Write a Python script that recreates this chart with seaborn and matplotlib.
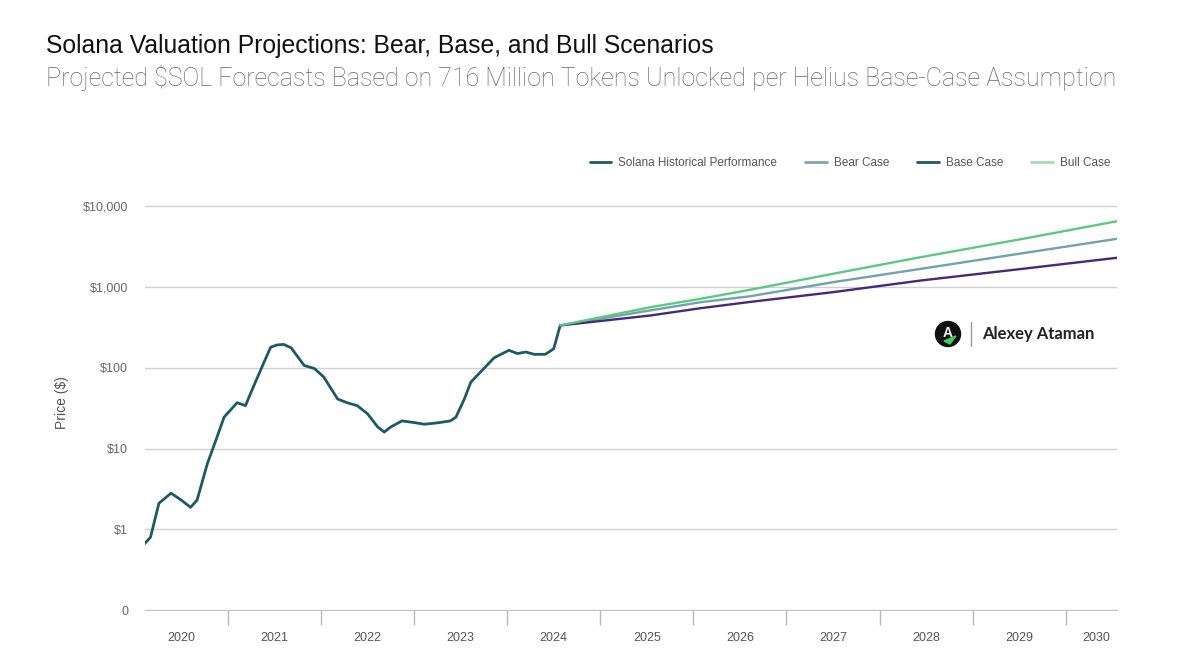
import pandas as pd
import seaborn as sns
import matplotlib.pyplot as plt
from matplotlib.lines import Line2D
from matplotlib.patches import Circle, Polygon
from matplotlib.ticker import FixedLocator, NullLocator

# values (x in decimal years, price in $)
hist_year = [2020.10, 2020.17, 2020.26, 2020.39, 2020.50, 2020.60, 2020.67, 2020.78,
             2020.87, 2020.96, 2021.10, 2021.19, 2021.25, 2021.32, 2021.39, 2021.46,
             2021.53, 2021.60, 2021.68, 2021.82, 2021.93, 2022.03, 2022.18, 2022.28,
             2022.39, 2022.50, 2022.61, 2022.68, 2022.75, 2022.87, 2023.00, 2023.11,
             2023.25, 2023.39, 2023.45, 2023.54, 2023.61, 2023.75, 2023.86, 2024.02,
             2024.11, 2024.20, 2024.29, 2024.41, 2024.50, 2024.57]
hist_price = [0.65, 0.80, 2.1, 2.8, 2.3, 1.87, 2.3, 6.5,
              12.5, 24.5, 37, 34, 50, 77, 118, 180,
              192, 195, 177, 107, 98, 77, 41, 37,
              34, 27, 18.5, 16, 18.5, 22, 21, 20,
              20.8, 22, 24.5, 41, 66.5, 98, 133, 165,
              150, 157, 147, 147, 172, 335]

proj_year = [2024.57, 2025.54, 2026.08, 2026.61, 2027.50, 2028.44, 2029.54, 2030.55]
bear_price = [335, 515, 650, 770, 1150, 1680, 2630, 3960]
base_price = [335, 445, 548, 655, 865, 1205, 1686, 2306]
bull_price = [335, 564, 717, 926, 1462, 2345, 3962, 6540]

series_names = ["Solana Historical Performance", "Bear Case", "Base Case", "Bull Case"]
line_colors = {"Solana Historical Performance": "#1e5966", "Bear Case": "#72a2ab",
               "Base Case": "#45297a", "Bull Case": "#5cc97e"}
legend_colors = ["#1e5966", "#7fa8ae", "#215a60", "#a3dcb4"]

year_ticks = list(range(2021, 2031))
year_labels = [str(y) for y in range(2020, 2031)]
year_label_pos = [y + 0.5 for y in range(2020, 2030)] + [2030.33]
price_ticks = [0.1, 1, 10, 100, 1000, 10000]
price_labels = ["0", "$1", "$10", "$100", "$1,000", "$10,000"]

frames = [pd.DataFrame({"year": hist_year, "price": hist_price,
                        "series": series_names[0]})]
for name, vals in zip(series_names[1:], [bear_price, base_price, bull_price]):
    frames.append(pd.DataFrame({"year": proj_year, "price": vals, "series": name}))
df = pd.concat(frames, ignore_index=True)

sns.set_style("white")
plt.rcParams["font.family"] = ["Liberation Sans", "DejaVu Sans"]

fig = plt.figure(figsize=(12, 6.68), dpi=100)
ax = fig.add_axes([0.1208, 0.0868, 0.81, 0.62])

for name in series_names:
    sns.lineplot(data=df[df["series"] == name], x="year", y="price",
                 color=line_colors[name], lw=2.0 if name == series_names[0] else 1.7,
                 ax=ax, legend=False, sort=False)

ax.set_yscale("log")
ax.set_ylim(0.1, 10 ** 4.13)
ax.set_xlim(2020.11, 2030.55)

ax.yaxis.set_major_locator(FixedLocator(price_ticks))
ax.yaxis.set_minor_locator(NullLocator())
ax.set_yticklabels(price_labels)
ax.xaxis.set_major_locator(FixedLocator(year_ticks))
ax.xaxis.set_minor_locator(FixedLocator(year_label_pos))
ax.set_xticklabels([""] * len(year_ticks))
ax.set_xticklabels(year_labels, minor=True)

ax.tick_params(axis="y", length=0, labelsize=9, labelcolor="#666666", pad=12)
ax.tick_params(axis="x", which="major", bottom=True, length=11, width=1,
               color="#bbbbbb", direction="out")
ax.tick_params(axis="x", which="minor", bottom=True, length=0, labelsize=9,
               labelcolor="#555555", pad=16)

ax.grid(axis="y", color="#d0d0d0", lw=1)
ax.grid(axis="x", visible=False)
for s in ["top", "right", "left"]:
    ax.spines[s].set_visible(False)
ax.spines["bottom"].set_color("#c4c4c4")

ax.set_xlabel("")
ax.set_ylabel("Price ($)", fontsize=10, color="#555555", labelpad=10)

handles = [Line2D([0], [0], color=c, lw=2) for c in legend_colors]
fig.legend(handles, series_names, loc="center right", bbox_to_anchor=(0.934, 0.756),
           ncol=4, frameon=False, fontsize=8.5, handlelength=1.8, handletextpad=0.6,
           columnspacing=2.4, labelcolor="#555555")

fig.text(0.038, 0.921, "Solana Valuation Projections: Bear, Base, and Bull Scenarios",
         fontsize=17.8, color="#111111", va="baseline")
fig.text(0.038, 0.871, "Projected $SOL Forecasts Based on 716 Million Tokens Unlocked "
         "per Helius Base-Case Assumption", fontsize=18.0, color="#686868",
         va="baseline", family=["Roboto", "DejaVu Sans"], weight="light")

# author badge
logo = Circle((9.48, 3.34), 0.125, transform=fig.dpi_scale_trans, color="#111111")
fig.add_artist(logo)
fig.text(9.48 / 12, 3.345 / 6.68, "A", color="#f0f0f0", fontsize=10, weight="bold",
         ha="center", va="center")
fig.add_artist(Polygon([(9.44, 3.27), (9.56, 3.32), (9.50, 3.24)], closed=True,
                       transform=fig.dpi_scale_trans, color="#3ecf5a"))
fig.add_artist(Line2D([9.71, 9.71], [3.22, 3.46], transform=fig.dpi_scale_trans,
                      color="#999999", lw=1))
fig.text(9.82 / 12, 3.34 / 6.68, "Alexey Ataman", fontsize=12, weight="bold",
         color="#222222", va="center", family=["Lato", "DejaVu Sans"])

plt.savefig("out.png", dpi=100)
